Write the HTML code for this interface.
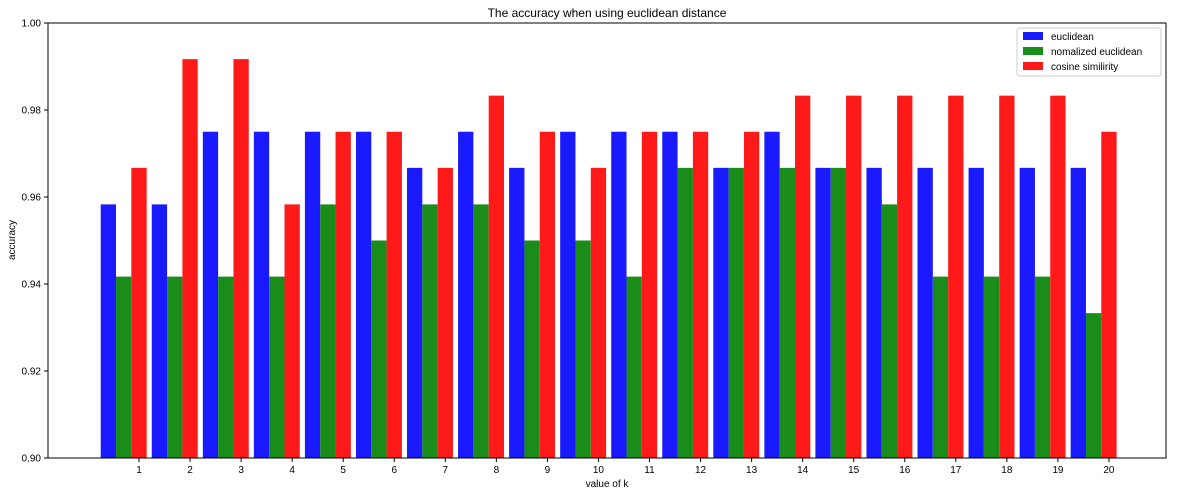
<!DOCTYPE html>
<html><head><meta charset="utf-8"><style>
body{margin:0;background:#fff;}
svg{display:block;font-family:"Liberation Sans","DejaVu Sans",sans-serif;}
</style></head><body>
<svg id="chart" width="1177" height="496">
<rect width="1177" height="496" fill="#fff"/>
<g id="bars"></g>
<rect x="48" y="23" width="1118" height="435" fill="none" stroke="#000" stroke-width="1"/>
<g id="yaxis"></g><g id="xaxis"></g>
<text x="607" y="17" text-anchor="middle" font-size="12">The accuracy when using euclidean distance</text>
<text x="607" y="487" text-anchor="middle" font-size="10">value of k</text>
<text x="15" y="240" text-anchor="middle" font-size="10" transform="rotate(-90 15 240)">accuracy</text>
<g>
<rect x="1017" y="28" width="144" height="48" fill="#fff" stroke="#ccc" rx="3"/>
<g><rect x="1023" y="32" width="20" height="8" fill="#1a1aff"/><text x="1051" y="40" font-size="10">euclidean</text></g>
<g><rect x="1023" y="47" width="20" height="8" fill="#1a8c1a"/><text x="1051" y="55" font-size="10">nomalized euclidean</text></g>
<g><rect x="1023" y="62" width="20" height="8" fill="#ff1a1a"/><text x="1051" y="70" font-size="10">cosine similirity</text></g>
</g>
</svg>
<script>
const categories=[1,2,3,4,5,6,7,8,9,10,11,12,13,14,15,16,17,18,19,20];
const euclidean=[.9583,.9583,.975,.975,.975,.975,.9667,.975,.9667,.975,.975,.975,.9667,.975,.9667,.9667,.9667,.9667,.9667,.9667];
const normalized=[.9417,.9417,.9417,.9417,.9583,.95,.9583,.9583,.95,.95,.9417,.9667,.9667,.9667,.9667,.9583,.9417,.9417,.9417,.9333];
const cosine=[.9667,.9917,.9917,.9583,.975,.975,.9667,.9833,.975,.9667,.975,.975,.975,.9833,.9833,.9833,.9833,.9833,.9833,.975];
const yTicks=[0.90,0.92,0.94,0.96,0.98,1.00];
const ns="http://www.w3.org/2000/svg";
const unit=51.05;
const xs=v=>139+(v-1)*unit;
const ys=v=>458-(v-0.9)/0.1*435;
const bw=unit*0.3;
const bars=document.getElementById('bars');
function mk(t,a,p){const e=document.createElementNS(ns,t);for(const k in a)e.setAttribute(k,a[k]);p.appendChild(e);return e;}
const series=[[euclidean,'#1a1aff',-0.6,'bar-euclidean'],[normalized,'#1a8c1a',-0.3,'bar-normalized'],[cosine,'#ff1a1a',0,'bar-cosine']];
series.forEach(([vals,col,off,nm])=>{
 vals.forEach((v,i)=>{
  const c=xs(categories[i]+off);
  const r=mk('rect',{x:c-bw/2,y:ys(v),width:bw,height:ys(0.9)-ys(v),fill:col},bars);
  
  
 });
});
const ya=document.getElementById('yaxis');
yTicks.forEach(t=>{
 const y=ys(t);
 mk('line',{x1:44,x2:48,y1:y,y2:y,stroke:'#000'},ya);
 const tx=mk('text',{x:41,y:y+3.5,'text-anchor':'end','font-size':10},ya);
 tx.textContent=t.toFixed(2);
 
 
});
const xa=document.getElementById('xaxis');
categories.forEach(c=>{
 const x=xs(c);
 mk('line',{x1:x,x2:x,y1:458,y2:462,stroke:'#000'},xa);
 const tx=mk('text',{x:x,y:473,'text-anchor':'middle','font-size':10},xa);
 tx.textContent=c;
 
 
});
</script>
</body></html>
